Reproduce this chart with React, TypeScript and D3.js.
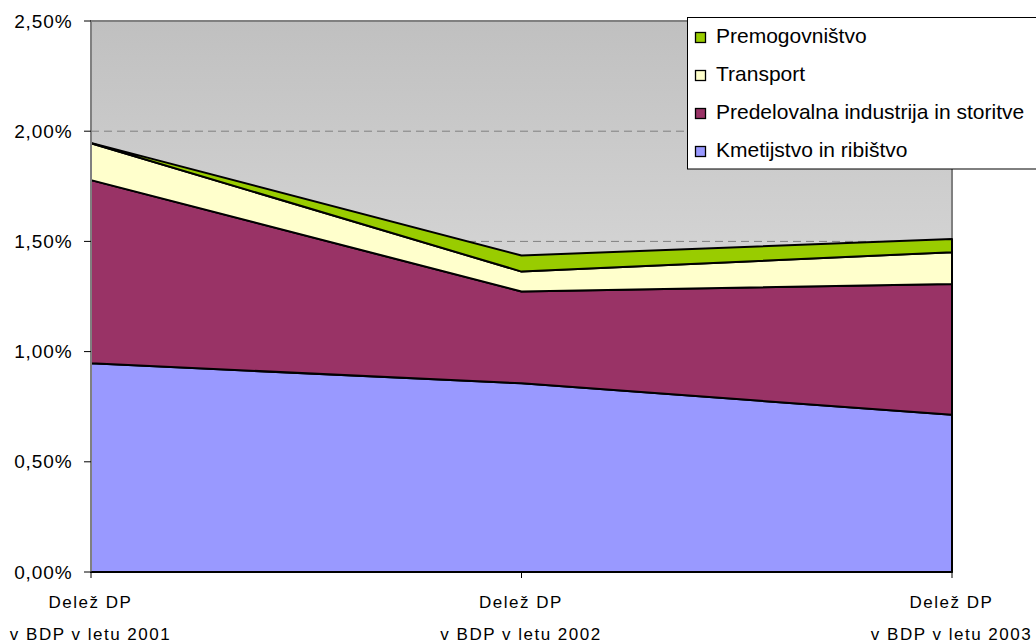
import React from "react";
import * as d3 from "d3";

const categories = ["2001", "2002", "2003"];
const kmetijstvo = [0.947, 0.856, 0.713];
const predelovalna = [0.831, 0.417, 0.594];
const transport = [0.167, 0.09, 0.144];
const premogovnistvo = [0.002, 0.073, 0.06];
const yTicks = [0, 0.5, 1, 1.5, 2, 2.5];

const seriesNames = ["Kmetijstvo in ribištvo", "Predelovalna industrija in storitve", "Transport", "Premogovništvo"];
const seriesColors = ["#9999ff", "#993366", "#ffffcc", "#99cc00"];

const W = 1036, H = 644;
const left = 91, right = 952, top = 21, bottom = 572;

export default function App() {
  const x = d3.scalePoint<string>().domain(categories).range([left, right]);
  const y = d3.scaleLinear().domain([0, 2.5]).range([bottom, top]);
  const rows = categories.map((c, i) => ({
    cat: c,
    k: kmetijstvo[i],
    p: predelovalna[i],
    t: transport[i],
    m: premogovnistvo[i],
  }));
  const keys = ["k", "p", "t", "m"];
  const stack = d3.stack<any>().keys(keys)(rows);
  const area = d3
    .area<any>()
    .x((d) => x(d.data.cat) as number)
    .y0((d) => y(d[0]))
    .y1((d) => y(d[1]));
  const fmt = (v: number) => v.toFixed(2).replace(".", ",") + "%";
  const legendOrder = [3, 2, 1, 0];
  const font = "'Liberation Sans', Arial, sans-serif";

  return (
    <svg width={W} height={H} style={{ position: "absolute", left: 0, top: 0 }} fontFamily={font}>
      <defs>
        <linearGradient id="bg" x1="0" y1="0" x2="0" y2="1">
          <stop offset="0" stopColor="#c0c0c0" />
          <stop offset="1" stopColor="#eeeeee" />
        </linearGradient>
      </defs>
      <rect x={0} y={0} width={W} height={H} fill="#ffffff" />
      <rect x={left} y={top} width={right - left} height={bottom - top} fill="url(#bg)" stroke="#808080" strokeWidth={2} />
      {yTicks.filter((v) => v > 0 && v < 2.5).map((v) => (
        <line key={v} x1={left} x2={right} y1={y(v)} y2={y(v)} stroke="#808080" strokeDasharray="8,5" strokeWidth={1} />
      ))}
      {stack.map((s, i) => (
        <path key={i} d={area(s) as string} fill={seriesColors[i]} stroke="#000" strokeWidth={2} strokeLinejoin="round" />
      ))}
      <line x1={left} x2={left} y1={top} y2={bottom} stroke="#808080" strokeWidth={2} />
      <line x1={left} x2={right} y1={bottom} y2={bottom} stroke="#000" strokeWidth={1.5} />
      {yTicks.map((v) => (
        <g key={v}>
          <line x1={left - 7} x2={left} y1={y(v)} y2={y(v)} stroke="#000" strokeWidth={1} />
          <text x={72.5} y={y(v) + 6.5} textAnchor="end" fontSize={19} letterSpacing={0.9} fill="#000">
            {fmt(v)}
          </text>
        </g>
      ))}
      {categories.map((c) => (
        <g key={c}>
          <line x1={x(c)} x2={x(c)} y1={bottom} y2={bottom + 6} stroke="#000" strokeWidth={1} />
          <text x={(x(c) as number) - 0.5} y={607.5} textAnchor="middle" fontSize={17} letterSpacing={1.5} fill="#000">
            Delež DP
          </text>
          <text x={(x(c) as number) - 0.5} y={639.5} textAnchor="middle" fontSize={17} letterSpacing={1.5} fill="#000">
            {"v BDP v letu " + c}
          </text>
        </g>
      ))}
      <rect x={687.5} y={17.5} width={360} height={151.5} fill="#ffffff" stroke="#000" strokeWidth={1} />
      {legendOrder.map((si, j) => {
        const base = 43 + j * 38;
        return (
          <g key={si}>
            <rect x={695.5} y={base - 10.5} width={10} height={10} fill={seriesColors[si]} stroke="#000" strokeWidth={1.3} />
            <text x={716} y={base} fontSize={21} fill="#000">
              {seriesNames[si]}
            </text>
          </g>
        );
      })}
    </svg>
  );
}
